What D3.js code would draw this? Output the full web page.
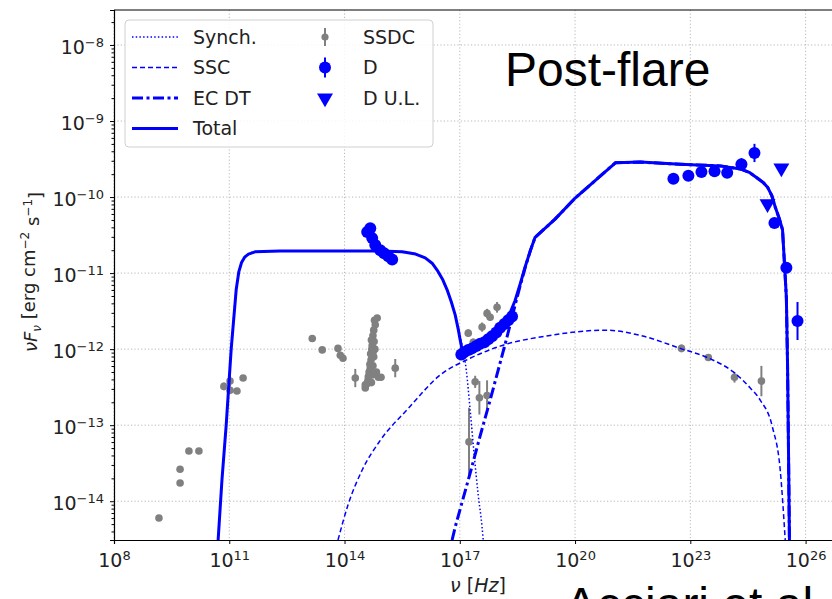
<!DOCTYPE html>
<html>
<head>
<meta charset="utf-8">
<script src="https://cdn.jsdelivr.net/npm/d3@7"></script>
<style>
  body { margin: 0; background: #fff; }
  svg { display: block; }
</style>
</head>
<body>
<svg id="sed" width="832" height="599"></svg>
<script>
// all points as [log10 nu (Hz), log10 nuFnu (erg cm^-2 s^-1)]
const totalLog = [
  [10.71, -14.51], [10.81, -13.72], [10.92, -13.00], [11.05, -12.00], [11.18, -11.22],
  [11.25, -10.98], [11.32, -10.86], [11.40, -10.79], [11.50, -10.75], [11.67, -10.72],
  [12.32, -10.71], [13.63, -10.71], [14.93, -10.71], [15.50, -10.72], [15.85, -10.75],
  [16.10, -10.80], [16.28, -10.87], [16.41, -10.96], [16.55, -11.08], [16.67, -11.22],
  [16.78, -11.38], [16.88, -11.55], [16.96, -11.74], [17.01, -11.88], [17.05, -11.98],
  [17.09, -12.04], [17.15, -12.04], [17.27, -12.00], [17.53, -11.93], [17.84, -11.83],
  [18.05, -11.72], [18.18, -11.64], [18.32, -11.51], [18.44, -11.36], [18.58, -11.13],
  [18.70, -10.92], [18.84, -10.70], [18.96, -10.53], [19.48, -10.29], [20.01, -10.01],
  [20.53, -9.78], [21.05, -9.55], [21.70, -9.54], [22.74, -9.57], [23.78, -9.59],
  [24.30, -9.63], [24.55, -9.68], [24.74, -9.75], [24.90, -9.81], [25.01, -9.87],
  [25.12, -9.98], [25.21, -10.13], [25.32, -10.29], [25.40, -10.43], [25.45, -10.87],
  [25.50, -11.32], [25.53, -12.18], [25.55, -13.07], [25.58, -14.51]
];
const synchLog = [
  [10.71, -14.51], [10.81, -13.72], [10.92, -13.00], [11.05, -12.00], [11.18, -11.22],
  [11.28, -10.92], [11.44, -10.78], [11.67, -10.72], [12.32, -10.71], [13.63, -10.71],
  [14.93, -10.71], [15.71, -10.74], [16.10, -10.80], [16.41, -10.96], [16.67, -11.22],
  [16.88, -11.55], [17.04, -11.90], [17.17, -12.28], [17.27, -12.80], [17.375, -13.39],
  [17.48, -13.92], [17.58, -14.34], [17.61, -14.51]
];
const sscLog = [
  [13.83, -14.51], [14.09, -14.05], [14.46, -13.59], [14.93, -13.20], [15.66, -12.78],
  [16.49, -12.34], [17.27, -12.12], [18.05, -11.96], [19.35, -11.82], [20.79, -11.75],
  [21.70, -11.82], [22.74, -11.99], [23.44, -12.11], [24.12, -12.30], [24.56, -12.51],
  [24.82, -12.67], [25.14, -13.03], [25.34, -13.59], [25.47, -14.51]
];
const ecLog = [
  [16.80, -14.51], [16.88, -14.34], [17.27, -13.63], [17.53, -13.14], [17.79, -12.67],
  [18.05, -12.18], [18.23, -11.84], [18.44, -11.42], [18.58, -11.15], [18.70, -10.93],
  [18.84, -10.70], [18.96, -10.53], [19.48, -10.29], [20.01, -10.01], [20.53, -9.78],
  [21.05, -9.55], [21.70, -9.54], [22.74, -9.57], [23.78, -9.59], [24.30, -9.63],
  [24.55, -9.68], [24.74, -9.75], [24.90, -9.81], [25.01, -9.87], [25.12, -9.98],
  [25.21, -10.13], [25.32, -10.29], [25.40, -10.43], [25.45, -10.87], [25.50, -11.32],
  [25.53, -12.18], [25.55, -13.07], [25.58, -14.51]
];
// [log nu, log nuFnu, log error]
const ssdcPts = [
  [9.17, -14.22, 0], [9.72, -13.76, 0], [9.72, -13.58, 0], [9.95, -13.34, 0], [10.21, -13.34, 0],
  [10.86, -12.49, 0.05], [11.02, -12.42, 0.07], [11.02, -12.54, 0.05], [11.20, -12.55, 0.04], [11.36, -12.38, 0],
  [13.16, -11.86, 0], [13.42, -12.01, 0], [13.83, -11.99, 0], [13.89, -12.08, 0], [13.96, -12.12, 0],
  [14.85, -11.59, 0], [14.80, -11.68, 0], [14.74, -11.82, 0], [14.72, -11.95, 0], [14.74, -12.04, 0],
  [14.69, -12.14, 0], [14.67, -12.25, 0], [14.72, -12.34, 0], [14.61, -12.41, 0], [14.54, -12.47, 0],
  [14.88, -12.37, 0], [14.95, -12.37, 0], [14.28, -12.38, 0.12], [15.32, -12.25, 0.12], [14.54, -12.51, 0],
  [14.78, -11.62, 0], [14.76, -11.75, 0], [14.70, -11.88, 0], [14.77, -11.90, 0], [14.71, -12.00, 0],
  [14.76, -12.10, 0], [14.66, -12.20, 0], [14.74, -12.22, 0], [14.64, -12.30, 0], [14.70, -12.44, 0],
  [14.58, -12.46, 0], [14.83, -12.30, 0], [14.62, -12.36, 0], [14.68, -12.06, 0], [14.79, -12.00, 0],
  [17.22, -11.79, 0.05], [17.35, -11.91, 0.05], [17.58, -11.71, 0.06], [17.71, -11.53, 0.06],
  [17.79, -11.58, 0.05], [17.97, -11.45, 0.07], [17.40, -12.43, 0.08], [17.51, -12.64, 0.22],
  [17.71, -12.61, 0.2], [17.24, -13.22, 0.45],
  [22.77, -11.99, 0.05], [23.47, -12.11, 0.03], [24.15, -12.37, 0.07], [24.85, -12.42, 0.2]
];
const dPts = [
  [14.59, -10.46, 0.06], [14.67, -10.41, 0.06], [14.72, -10.54, 0.05], [14.80, -10.63, 0.04],
  [14.93, -10.70, 0.03], [15.03, -10.74, 0.03], [15.14, -10.78, 0.03], [15.24, -10.82, 0.03],
  [17.04, -12.07, 0.04], [17.11, -12.04, 0.04], [17.22, -12.01, 0.04], [17.32, -11.99, 0.04],
  [17.43, -11.96, 0.04], [17.53, -11.93, 0.04], [17.64, -11.91, 0.04], [17.74, -11.87, 0.04],
  [17.84, -11.83, 0.04], [17.95, -11.78, 0.05], [18.05, -11.72, 0.05], [18.16, -11.67, 0.05],
  [18.26, -11.62, 0.05], [18.36, -11.57, 0.06],
  [22.56, -9.76, 0.03], [22.95, -9.72, 0.03], [23.29, -9.67, 0.03], [23.63, -9.66, 0.03],
  [23.96, -9.68, 0.07], [24.33, -9.57, 0.08], [24.67, -9.42, 0.12], [25.19, -10.34, 0.03],
  [25.50, -10.93, 0.03], [25.79, -11.63, 0.25]
];
const dUL = [[25.37, -9.62], [25.01, -10.09]];
const xTicks = [8, 11, 14, 17, 20, 23, 26];
const yTicks = [-14, -13, -12, -11, -10, -9, -8];

const svg = d3.select("#sed");
const mLeft = 114, mTop = 10, mBottom = 540, mRight = 844;
const font = "'DejaVu Sans', sans-serif";
const blue = "#0000ff", grey = "#808080";
const synchDash = "1.5,2.2", sscDash = "5,3", ecDash = "11,3.5,3,3.5";

const x = d3.scaleLog().domain([1e8, 1e27]).range([mLeft, mRight]);
const y = d3.scaleLog().domain([Math.pow(10, -14.51), Math.pow(10, -7.54)]).range([mBottom, mTop]);
const px = d => x(Math.pow(10, d[0]));
const py = d => y(Math.pow(10, d[1]));

svg.append("clipPath").attr("id", "clip")
  .append("rect").attr("x", mLeft).attr("y", mTop).attr("width", mRight - mLeft).attr("height", mBottom - mTop);

// grid
const grid = svg.append("g").attr("stroke", "#b0b0b0").attr("stroke-width", 0.9).attr("stroke-dasharray", "1.2,2.2");
grid.selectAll(".gx").data(xTicks).join("line")
  .attr("x1", d => x(Math.pow(10, d))).attr("x2", d => x(Math.pow(10, d)))
  .attr("y1", mTop).attr("y2", mBottom);
grid.selectAll(".gy").data(yTicks).join("line")
  .attr("x1", mLeft).attr("x2", mRight)
  .attr("y1", d => y(Math.pow(10, d))).attr("y2", d => y(Math.pow(10, d)));

const plot = svg.append("g").attr("clip-path", "url(#clip)");
const smooth = d3.line().x(px).y(py).curve(d3.curveMonotoneX);
const straight = d3.line().x(px).y(py);

// gray archival data
const gs = plot.append("g");
gs.selectAll("line").data(ssdcPts.filter(d => d[2] > 0)).join("line")
  .attr("x1", px).attr("x2", px)
  .attr("y1", d => y(Math.pow(10, d[1] + d[2]))).attr("y2", d => y(Math.pow(10, d[1] - d[2])))
  .attr("stroke", grey).attr("stroke-width", 2);
gs.selectAll("circle").data(ssdcPts).join("circle")
  .attr("cx", px).attr("cy", py).attr("r", 3.8).attr("fill", grey);

// model curves
plot.append("path").datum(sscLog).attr("d", smooth)
  .attr("fill", "none").attr("stroke", blue).attr("stroke-width", 1.5).attr("stroke-dasharray", sscDash);
plot.append("path").datum(synchLog).attr("d", smooth)
  .attr("fill", "none").attr("stroke", blue).attr("stroke-width", 1.5).attr("stroke-dasharray", synchDash);
plot.append("path").datum(ecLog).attr("d", straight)
  .attr("fill", "none").attr("stroke", blue).attr("stroke-width", 3).attr("stroke-dasharray", ecDash);
plot.append("path").datum(totalLog).attr("d", straight)
  .attr("fill", "none").attr("stroke", blue).attr("stroke-width", 3).attr("stroke-linejoin", "round");

// D data
const ds = plot.append("g");
ds.selectAll("line").data(dPts).join("line")
  .attr("x1", px).attr("x2", px)
  .attr("y1", d => y(Math.pow(10, d[1] + d[2]))).attr("y2", d => y(Math.pow(10, d[1] - d[2])))
  .attr("stroke", blue).attr("stroke-width", 2);
ds.selectAll("circle").data(dPts).join("circle")
  .attr("cx", px).attr("cy", py).attr("r", 6).attr("fill", blue);
const tri = d3.symbol().type(d3.symbolTriangle).size(110);
ds.selectAll("path.ul").data(dUL).join("path").attr("class", "ul")
  .attr("d", tri)
  .attr("transform", d => `translate(${px(d)},${py(d)}) rotate(180)`)
  .attr("fill", blue);

// axes
function powLabel(sel, sup) {
  sel.each(function (d) {
    const t = d3.select(this).text(null);
    t.append("tspan").text("10");
    t.append("tspan").attr("dy", "-0.55em").attr("font-size", "13px").text(sup(d));
  });
}
const xAxis = svg.append("g").attr("transform", `translate(0,${mBottom})`)
  .call(d3.axisBottom(x).tickValues(xTicks.map(d => Math.pow(10, d))).tickSize(4).tickPadding(5).tickFormat(() => ""));
xAxis.select(".domain").attr("stroke", "#000").attr("stroke-width", 1.2);
xAxis.selectAll(".tick text").attr("font-family", font).attr("font-size", "19px").attr("fill", "#222")
  .attr("dy", "0.95em");
xAxis.selectAll(".tick text").call(powLabel, d => String(Math.round(Math.log10(d))));

const minorY = [];
for (let e = -15; e <= -8; e++) for (let k = 2; k <= 9; k++) {
  const v = k * Math.pow(10, e);
  if (v > y.domain()[0] && v < y.domain()[1]) minorY.push(v);
}
svg.append("g").attr("transform", `translate(${mLeft},0)`)
  .call(d3.axisLeft(y).tickValues(minorY).tickSize(2.5).tickFormat(() => ""))
  .call(g => g.select(".domain").remove());
const yAxis = svg.append("g").attr("transform", `translate(${mLeft},0)`)
  .call(d3.axisLeft(y).tickValues(yTicks.map(d => Math.pow(10, d))).tickSize(4).tickPadding(6).tickFormat(() => ""));
yAxis.select(".domain").attr("stroke", "#000").attr("stroke-width", 1.2);
yAxis.selectAll(".tick text").attr("font-family", font).attr("font-size", "19px").attr("fill", "#222")
  .attr("dy", "0.45em");
yAxis.selectAll(".tick text").call(powLabel, d => "\u2212" + String(Math.round(-Math.log10(d))));

svg.append("line").attr("x1", mLeft).attr("x2", 832).attr("y1", mTop).attr("y2", mTop)
  .attr("stroke", "#000").attr("stroke-width", 1.2);

// axis labels
const xl = svg.append("text").attr("x", 478).attr("y", 592).attr("text-anchor", "middle")
  .attr("font-family", font).attr("font-size", "19px").attr("fill", "#222");
xl.append("tspan").attr("font-style", "italic").text("\u03bd");
xl.append("tspan").text(" [");
xl.append("tspan").attr("font-style", "italic").text("Hz");
xl.append("tspan").text("]");

const yl = svg.append("text").attr("transform", "translate(37,272) rotate(-90)").attr("text-anchor", "middle")
  .attr("font-family", font).attr("font-size", "18px").attr("fill", "#222");
yl.append("tspan").attr("font-style", "italic").text("\u03bdF");
yl.append("tspan").attr("font-style", "italic").attr("font-size", "12px").attr("dy", "0.3em").text("\u03bd");
yl.append("tspan").attr("dy", "-0.3em").text(" [erg cm");
yl.append("tspan").attr("font-size", "12px").attr("dy", "-0.55em").text("\u22122");
yl.append("tspan").attr("dy", "0.55em").text(" s");
yl.append("tspan").attr("font-size", "12px").attr("dy", "-0.55em").text("\u22121");
yl.append("tspan").attr("dy", "0.55em").text("]");

// legend
const lg = svg.append("g");
lg.append("rect").attr("x", 125).attr("y", 20).attr("width", 308).attr("height", 127).attr("rx", 4)
  .attr("fill", "#fff").attr("fill-opacity", 0.85).attr("stroke", "#d0d0d0");
const lineItems = [
  { name: "Synch.", w: 1.5, dash: synchDash },
  { name: "SSC", w: 1.5, dash: sscDash },
  { name: "EC DT", w: 3, dash: ecDash },
  { name: "Total", w: 3, dash: null }
];
lineItems.forEach((it, i) => {
  const yy = 37 + i * 30.5;
  lg.append("line").attr("x1", 132).attr("x2", 178).attr("y1", yy).attr("y2", yy)
    .attr("stroke", blue).attr("stroke-width", it.w).attr("stroke-dasharray", it.dash);
  lg.append("text").attr("x", 193).attr("y", yy).attr("dy", "0.36em").attr("font-family", font)
    .attr("font-size", "19px").attr("fill", "#222").text(it.name);
});
const mItems = ["SSDC", "D", "D U.L."];
mItems.forEach((name, i) => {
  const yy = 37 + i * 30.5;
  if (i === 0) {
    lg.append("line").attr("x1", 325).attr("x2", 325).attr("y1", yy - 9).attr("y2", yy + 9).attr("stroke", grey).attr("stroke-width", 2);
    lg.append("circle").attr("cx", 325).attr("cy", yy).attr("r", 3.6).attr("fill", grey);
  } else if (i === 1) {
    lg.append("line").attr("x1", 325).attr("x2", 325).attr("y1", yy - 10).attr("y2", yy + 10).attr("stroke", blue).attr("stroke-width", 2);
    lg.append("circle").attr("cx", 325).attr("cy", yy).attr("r", 6).attr("fill", blue);
  } else {
    lg.append("path").attr("d", tri).attr("transform", `translate(325,${yy}) rotate(180)`).attr("fill", blue);
  }
  lg.append("text").attr("x", 363).attr("y", yy).attr("dy", "0.36em").attr("font-family", font)
    .attr("font-size", "19px").attr("fill", "#222").text(name);
});

// annotations
svg.append("text").attr("x", 505).attr("y", 86).attr("font-family", "'Liberation Sans', Arial, sans-serif")
  .attr("font-size", "48px").attr("fill", "#000").text("Post-flare");
svg.append("text").attr("x", 565).attr("y", 621).attr("font-family", "'Liberation Sans', Arial, sans-serif")
  .attr("font-size", "48px").attr("fill", "#000").text("Acciari et al.");
</script>
</body>
</html>
